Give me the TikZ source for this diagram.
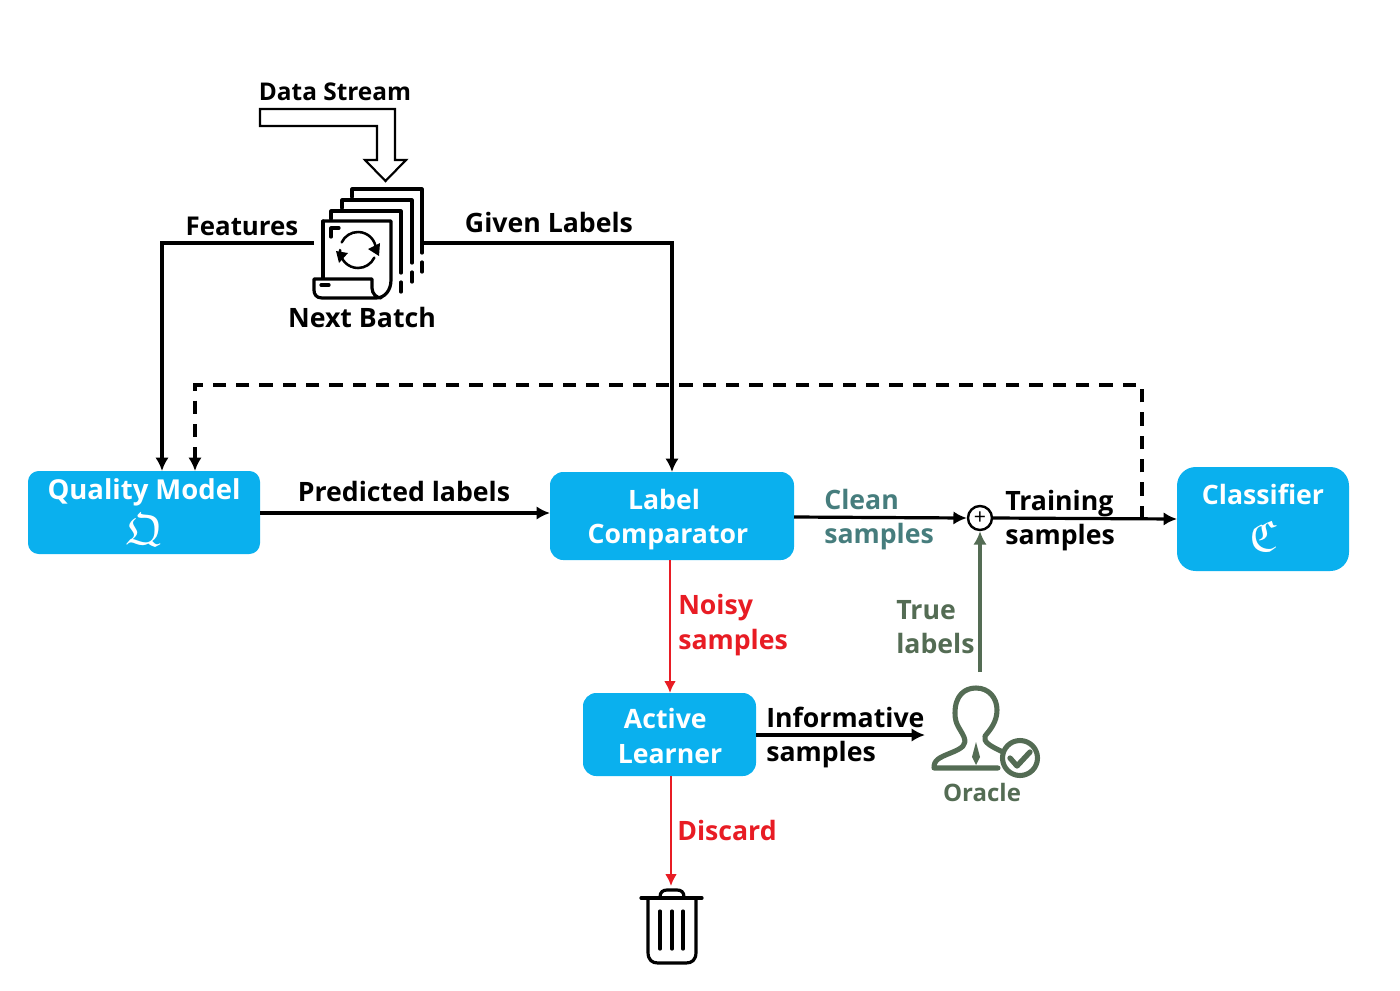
\documentclass[tikz,border=0pt]{standalone}
\usepackage{fontspec}
\usepackage{amssymb}
\setmainfont{Open Sans}[BoldFont={Open Sans Bold}]
\usetikzlibrary{arrows.meta}
\definecolor{boxblue}{RGB}{10,176,238}
\definecolor{oracle}{RGB}{84,108,84}
\definecolor{cleanc}{RGB}{70,125,125}
\definecolor{noisy}{RGB}{232,28,36}
\tikzset{
 x=0.75pt,y=-0.75pt,
 box/.style={text=white,font=\fontsize{20}{26}\selectfont\bfseries,align=center,inner sep=0pt},
 symb/.style={text=white,font=\fontsize{33}{33}\selectfont,inner sep=0pt},
 lab/.style={font=\fontsize{20}{26}\selectfont\bfseries,align=left,inner sep=0pt,anchor=west},
 conn/.style={line width=2.4pt,-{Latex[length=10pt,width=10pt]}},
 thinred/.style={line width=2pt,noisy,-{Latex[length=9pt,width=9pt]}},
 icon/.style={line width=2.4pt,line cap=round,line join=round},
 smalllab/.style={font=\fontsize{18}{24}\selectfont\bfseries,inner sep=0pt}
}
\begin{document}
\begin{tikzpicture}
\useasboundingbox (0,0) rectangle (1400,990);
% boxes
\fill[boxblue,rounded corners=8pt] (28,471) rectangle (260,554);
\node[box,font=\fontsize{20.6}{26}\selectfont\bfseries] (qtitle) at (144,492) {Quality Model};
\node[symb] (qsym) at (144,530) {$\mathfrak{Q}$};
\coordinate (qR) at (260,513); \coordinate (qT1) at (162,471); \coordinate (qT2) at (195,471);
\fill[boxblue,rounded corners=10pt] (550,472) rectangle (794,560);
\node[box] (lc) at (668,519.5) {Label\hspace*{6pt}\\Comparator};
\coordinate (lcL) at (550,513); \coordinate (lcT) at (672,472); \coordinate (lcR) at (794,517); \coordinate (lcB) at (670,560);
\fill[boxblue,rounded corners=10pt] (583,693) rectangle (756,776);
\node[box] (al) at (670,736) {Active\hspace*{7pt}\\Learner};
\coordinate (alT) at (670,693); \coordinate (alR) at (756,735); \coordinate (alB) at (671,776);
\fill[boxblue,rounded corners=14pt] (1177,467) rectangle (1349,571);
\node[box] (cltitle) at (1263,494) {Classifier};
\node[symb] (clsym) at (1263,536) {$\mathfrak{C}$};
\coordinate (clL) at (1177,519);
% sum
\node[circle,draw=black,line width=1.8pt,minimum size=18pt,inner sep=0pt,font=\fontsize{16}{16}\selectfont] (sum) at (980,518) {+};
% labels
\node[lab,anchor=center,font=\fontsize{18.3}{24}\selectfont\bfseries] (ds) at (335,92) {Data Stream};
\node[lab,anchor=center,font=\fontsize{19.4}{24}\selectfont\bfseries] (feat) at (242,226) {Features};
\node[lab,anchor=center] (gl) at (549,222) {Given Labels};
\node[lab,anchor=center] (nb) at (362,317) {Next Batch};
\node[lab,anchor=center] (pl) at (404,491) {Predicted labels};
\node[lab,text=cleanc] (cs) at (824,519.5) {Clean\\samples};
\node[lab] (ts) at (1005,520.5) {Training\\samples};
\node[lab,text=noisy] (ns) at (678,625) {Noisy\\samples};
\node[lab,text=oracle] (tl) at (896,627) {True\\labels};
\node[lab] (is) at (766,737.5) {Informative\\samples};
\node[lab,text=noisy,anchor=center] (dc) at (727,830) {Discard};
\node[smalllab,text=oracle] (or) at (982,792) {Oracle};
% stream arrow
\draw[line width=1.6pt,line join=miter] (260,109) -- (395,109) -- (395,160) -- (406,160) -- (385.5,181) -- (365,160) -- (377,160) -- (377,126) -- (260,126) -- cycle;
% next batch icon
\coordinate (fR) at (314,243); \coordinate (gR) at (424,243);
\begin{scope}[icon]
\draw (352,197) -- (352,189) -- (422,189) -- (422,253);
\draw (422,262) -- (422,272);
\draw (342,208) -- (342,200) -- (412,200) -- (412,263);
\draw (412,272) -- (412,282);
\draw (331,219) -- (331,211) -- (401,211) -- (401,273);
\draw (401,282) -- (401,292);
\draw (323,221) -- (391,221) -- (391,280) .. controls (391,290) and (385,298) .. (376,298) -- (322,298) .. controls (316,298) and (314,294) .. (314,290) -- (314,279) -- (372,279) -- (372,288) .. controls (372,294) and (377,298) .. (381,298);
\draw (323,221) -- (323,278);
\draw (331,237) -- (331,228) -- (339,228);
\draw (321,285) -- (329,285);
\draw[line width=1.9pt] (340,250) arc[start angle=180,end angle=25,radius=18];
\draw[line width=1.9pt] (376,250) arc[start angle=0,end angle=-155,radius=18];
\end{scope}
\fill (368,249) -- (380,243) -- (379,256) -- cycle;
\fill (336,251) -- (348,253) -- (339,263) -- cycle;
% oracle icon
\begin{scope}[line width=3.8pt,line join=round,line cap=round]
\draw[oracle] (998,768) -- (934,768) .. controls (934,760) and (938,758) .. (953,752) .. controls (962,748) and (967,745) .. (964,737) .. controls (960,728) and (955,725) .. (955,713) .. controls (955,695) and (965,688) .. (976,688) .. controls (989,688) and (997,698) .. (997,710) .. controls (997,722) and (990,730) .. (985,736) .. controls (983,742) and (990,746) .. (1003,752);
\fill[oracle] (976,742) -- (980,757) -- (976,765) -- (972,757) -- cycle;
\draw[oracle] (1020,758) circle[radius=17.5];
\draw[oracle,line width=4pt] (1010,758) -- (1017,766) -- (1030,752);
\end{scope}
% trash icon
\begin{scope}[icon]
\draw (641,898) -- (702,898);
\draw (660,897) .. controls (660,892) and (663,890) .. (667,890) -- (677,890) .. controls (681,890) and (684,892) .. (684,897);
\draw (648,899) -- (648,952) .. controls (648,960) and (652,963) .. (658,963) -- (686,963) .. controls (692,963) and (696,960) .. (696,952) -- (696,899);
\draw (660,911) -- (660,949); \draw (672,911) -- (672,949); \draw (683,911) -- (683,949);
\end{scope}
% connectors
\coordinate (fc) at (162,243); \coordinate (gc) at (672,243);
\draw[conn] (fR) -- (fc) -- (qT1);
\draw[conn] (gR) -- (gc) -- (lcT);
\draw[conn] (qR) -- (lcL);
\draw[conn] (lcR) -- (sum.west);
\draw[conn] (sum.east) -- (clL);
\coordinate (dS) at (1142,519); \coordinate (d1) at (1142,385); \coordinate (d2) at (195,385);
\draw[conn,line width=2.8pt,dash pattern=on 10pt off 7.5pt] (dS) -- (d1) -- (d2) -- (qT2);
\draw[thinred] (lcB) -- (alT);
\draw[conn] (alR) -- (925,735);
\draw[thinred] (alB) -- (671,886);
\coordinate (orT) at (980,672);
\draw[oracle,line width=2.6pt,-{Latex[length=10pt,width=10pt]}] (orT) -- (sum.south);
\end{tikzpicture}
\end{document}
